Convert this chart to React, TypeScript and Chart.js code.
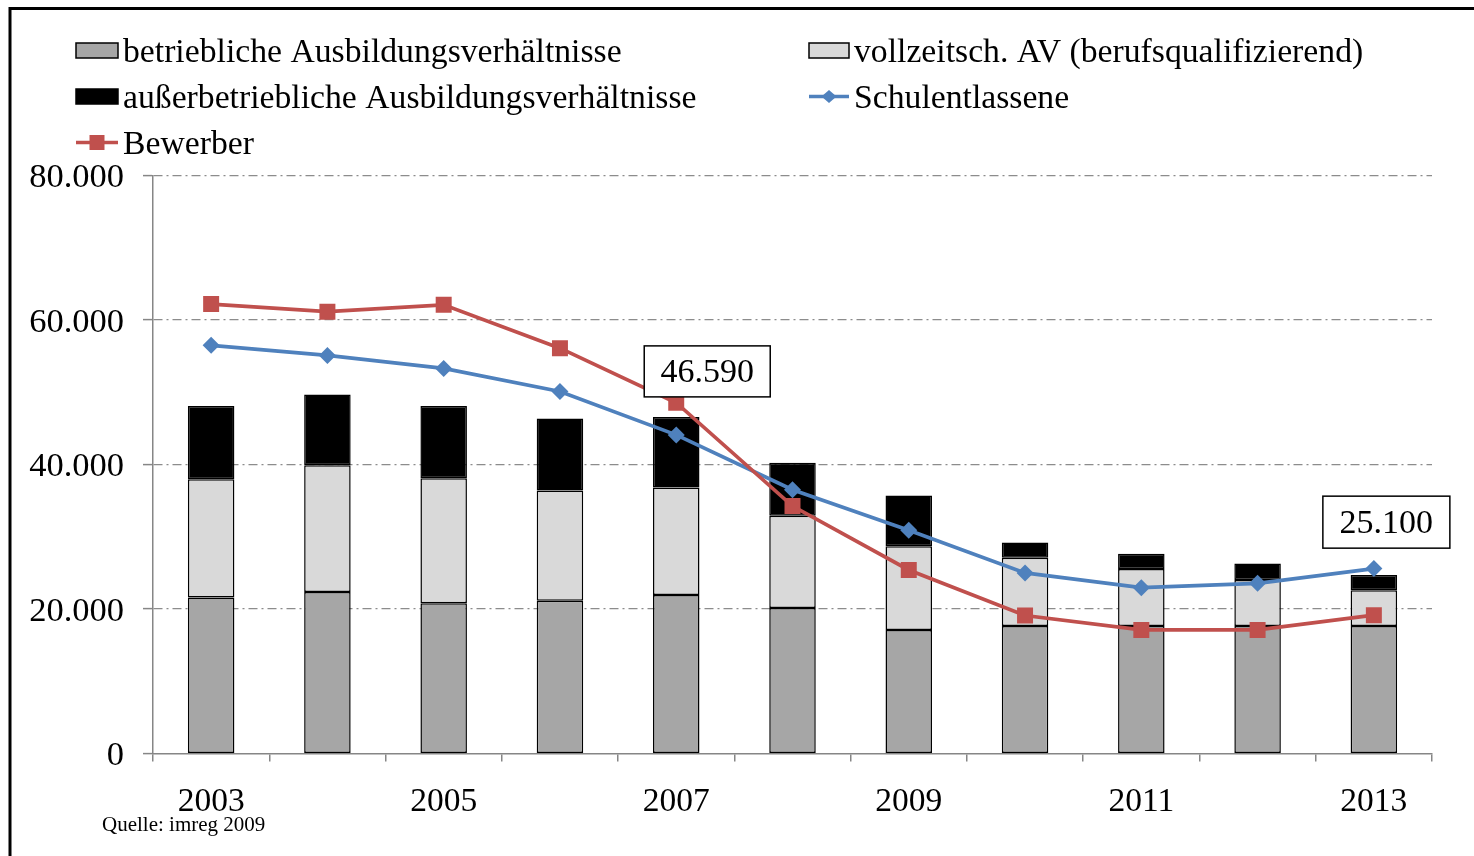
import React, { useEffect, useRef } from 'react';
import { Chart, registerables } from 'chart.js';

Chart.register(...registerables);

// ---- data ----
const years = ['2003', '2004', '2005', '2006', '2007', '2008', '2009', '2010', '2011', '2012', '2013'];
const betrieblich = [21600, 22350, 20800, 21150, 21950, 20150, 17100, 17650, 17650, 17650, 17650];
const vollzeitsch = [16350, 17550, 17300, 15250, 14850, 12750, 11600, 9450, 7900, 6350, 4950];
const ausserbetrieblich = [10150, 9800, 10000, 9950, 9790, 7350, 7000, 2100, 2100, 2300, 2100];
const schulentlassene = [56500, 55100, 53300, 50100, 44100, 36500, 30900, 25000, 22950, 23550, 25600];
const bewerber = [62200, 61150, 62100, 56100, 48550, 34250, 25400, 19100, 17100, 17100, 19150];
const yTickMax = 80000;
const yTickStep = 20000;
const calloutYears = ['2007', '2013'];
const calloutValues = [46590, 25100];
const calloutLabels = ['46.590', '25.100'];
const seriesLabels = [
  'betriebliche Ausbildungsverhältnisse',
  'vollzeitsch. AV (berufsqualifizierend)',
  'außerbetriebliche Ausbildungsverhältnisse',
  'Schulentlassene',
  'Bewerber',
];
const sourceNote = 'Quelle: imreg 2009';

// ---- styles ----
const FONT = "'Liberation Serif', 'Times New Roman', serif";
const C_GRAY = '#A6A6A6';
const C_LIGHT = '#D9D9D9';
const C_BLACK = '#000000';
const C_BLUE = '#4F81BD';
const C_RED = '#C0504D';
const C_AXIS = '#868686';
const W = 1474;
const H = 856;

const fmt = (v: number) => String(v).replace(/\B(?=(\d{3})+(?!\d))/g, '.');

const calloutStyle = [
  { dx: 31, dy: 20, w: 126, h: 51 },
  { dx: 12.5, dy: 24, w: 127, h: 52 },
];

const legendLayout = [
  { col: 0, row: 0, kind: 'box', color: C_GRAY },
  { col: 1, row: 0, kind: 'box', color: C_LIGHT },
  { col: 0, row: 1, kind: 'box', color: C_BLACK },
  { col: 1, row: 1, kind: 'line', color: C_BLUE, marker: 'diamond' },
  { col: 0, row: 2, kind: 'line', color: C_RED, marker: 'square' },
];
const legendColX = [76, 809];
const legendColW = [42, 40];
const legendRowY = [50.5, 96.5, 142.5];

const overlayPlugin = {
  id: 'overlay',
  afterDatasetsDraw(chart: any) {
    const ctx = chart.ctx;
    const xs = chart.scales.x;
    const ys = chart.scales.y;
    ctx.save();
    calloutLabels.forEach((label, i) => {
      const idx = years.indexOf(calloutYears[i]);
      const st = calloutStyle[i];
      const px = xs.getPixelForValue(idx) + st.dx;
      const py = ys.getPixelForValue(calloutValues[i]) - st.dy;
      const left = px - st.w / 2;
      const top = py - st.h;
      ctx.fillStyle = '#fff';
      ctx.fillRect(left, top, st.w, st.h);
      ctx.lineWidth = 1.5;
      ctx.strokeStyle = '#000';
      ctx.strokeRect(left, top, st.w, st.h);
      ctx.fillStyle = '#000';
      ctx.font = `34px ${FONT}`;
      ctx.textAlign = 'center';
      ctx.textBaseline = 'middle';
      ctx.fillText(label, px, top + st.h / 2 + 2);
    });
    ctx.restore();
  },
  afterDraw(chart: any) {
    const ctx = chart.ctx;
    ctx.save();
    // legend
    legendLayout.forEach((it, i) => {
      const x = legendColX[it.col];
      const w = legendColW[it.col];
      const y = legendRowY[it.row];
      if (it.kind === 'box') {
        ctx.fillStyle = it.color;
        ctx.fillRect(x, y - 7.5, w, 15);
        ctx.lineWidth = 1.5;
        ctx.strokeStyle = '#000';
        ctx.strokeRect(x, y - 7.5, w, 15);
      } else {
        ctx.strokeStyle = it.color;
        ctx.lineWidth = 3.5;
        ctx.beginPath();
        ctx.moveTo(x, y);
        ctx.lineTo(x + w, y);
        ctx.stroke();
        ctx.fillStyle = it.color;
        const cx = x + w / 2;
        ctx.beginPath();
        if (it.marker === 'diamond') {
          ctx.moveTo(cx - 7.5, y);
          ctx.lineTo(cx, y - 6.5);
          ctx.lineTo(cx + 7.5, y);
          ctx.lineTo(cx, y + 6.5);
        } else {
          ctx.rect(cx - 7.5, y - 7.5, 15, 15);
        }
        ctx.closePath();
        ctx.fill();
      }
      ctx.fillStyle = '#000';
      ctx.font = `33.7px ${FONT}`;
      ctx.textAlign = 'left';
      ctx.textBaseline = 'middle';
      ctx.fillText(seriesLabels[i], x + w + 5, y + 3);
    });
    // source note
    ctx.font = `21px ${FONT}`;
    ctx.textAlign = 'left';
    ctx.textBaseline = 'middle';
    ctx.fillStyle = '#000';
    ctx.fillText(sourceNote, 102, 825);
    // outer frame
    ctx.strokeStyle = '#000';
    ctx.lineWidth = 3;
    ctx.beginPath();
    ctx.moveTo(10, H + 10);
    ctx.lineTo(10, 8.5);
    ctx.lineTo(W + 10, 8.5);
    ctx.stroke();
    ctx.restore();
  },
};

export default function App() {
  const ref = useRef<HTMLCanvasElement | null>(null);

  useEffect(() => {
    if (!ref.current) return;
    Chart.defaults.font.family = FONT;
    Chart.defaults.color = '#000';
    const barCommon = {
      type: 'bar' as const,
      stack: 'bars',
      borderColor: '#000',
      borderWidth: 1.5,
      borderSkipped: false as const,
      barPercentage: 0.4,
      categoryPercentage: 1.0,
      order: 2,
    };
    const chart = new Chart(ref.current, {
      type: 'bar',
      data: {
        labels: years,
        datasets: [
          { ...barCommon, label: seriesLabels[0], data: betrieblich, backgroundColor: C_GRAY },
          { ...barCommon, label: seriesLabels[1], data: vollzeitsch, backgroundColor: C_LIGHT },
          { ...barCommon, label: seriesLabels[2], data: ausserbetrieblich, backgroundColor: C_BLACK },
          {
            type: 'line',
            label: seriesLabels[3],
            data: schulentlassene,
            stack: 'sch',
            borderColor: C_BLUE,
            backgroundColor: C_BLUE,
            borderWidth: 3.7,
            pointStyle: 'rectRot',
            pointRadius: 8.5,
            pointBorderWidth: 0,
            pointBackgroundColor: C_BLUE,
            tension: 0,
            order: 1,
          } as any,
          {
            type: 'line',
            label: seriesLabels[4],
            data: bewerber,
            stack: 'bew',
            borderColor: C_RED,
            backgroundColor: C_RED,
            borderWidth: 3.7,
            pointStyle: 'rect',
            pointRadius: 11.3,
            pointBorderWidth: 0,
            pointBackgroundColor: C_RED,
            tension: 0,
            order: 0,
          } as any,
        ],
      },
      options: {
        responsive: false,
        animation: false,
        devicePixelRatio: 1,
        layout: { padding: { top: 175.5, right: 42, left: 0, bottom: 0 } },
        plugins: {
          legend: { display: false },
          tooltip: { enabled: false },
        },
        scales: {
          x: {
            stacked: true,
            grid: {
              display: true,
              drawOnChartArea: false,
              offset: true,
              tickLength: 8,
              color: C_AXIS,
              lineWidth: 1.5,
            },
            border: { display: true, color: C_AXIS, width: 1.5 },
            ticks: {
              autoSkip: false,
              maxRotation: 0,
              padding: 21,
              color: '#000',
              font: { family: FONT, size: 33.5 },
              callback: (_v: any, i: number) => (i % 2 === 0 ? years[i] : ''),
            },
            afterFit: (s: any) => {
              s.height = 102.5;
            },
          },
          y: {
            stacked: true,
            min: 0,
            max: yTickMax,
            ticks: {
              stepSize: yTickStep,
              padding: 19,
              labelOffset: 2.5,
              color: '#000',
              font: { family: FONT, size: 34.5 },
              callback: (v: any) => fmt(Number(v)),
            },
            grid: {
              color: (c: any) => (c.tick && c.tick.value === 0 ? 'rgba(0,0,0,0)' : '#8C8C8C'),
              lineWidth: 1.2,
              tickLength: 10,
              tickColor: C_AXIS,
              tickWidth: 1.5,
              tickBorderDash: [],
            },
            border: { display: true, color: C_AXIS, width: 1.5, dash: [9, 4, 2, 4] },
            afterFit: (s: any) => {
              s.width = 153;
            },
          },
        },
      },
      plugins: [overlayPlugin],
    });
    return () => chart.destroy();
  }, []);

  return (
    <div style={{ position: 'absolute', left: 0, top: 0, width: W, height: H, background: '#fff' }}>
      <canvas ref={ref} width={W} height={H} style={{ display: 'block', width: W, height: H }} />
    </div>
  );
}
